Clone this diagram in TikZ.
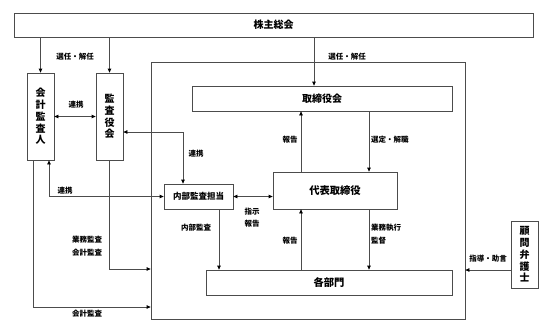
\documentclass[tikz,border=0pt]{standalone}
\usepackage{fontspec}
\setmainfont{Noto Sans CJK JP}
\usetikzlibrary{arrows.meta}
\begin{document}
\begin{tikzpicture}[x=1pt,y=-1pt,
  font=\bfseries,
  box/.style={draw=black!70,line width=0.8pt,inner sep=0pt,fill=white},
  lbl/.style={font=\fontsize{7.5}{9}\selectfont\bfseries,inner sep=0pt},
  vtext/.style={align=center,font=\fontsize{10}{11.7}\selectfont\bfseries},
  con/.style={draw=black!70,line width=0.8pt},
  arr/.style={con,-{Triangle[length=4pt,width=3.6pt,color=black]}},
  dbl/.style={con,{Triangle[length=4pt,width=3.6pt,color=black]}-{Triangle[length=4pt,width=3.6pt,color=black]}}]
\useasboundingbox (0,0) rectangle (547,332);
% nodes
\node[box,minimum width=519pt,minimum height=24pt,font=\fontsize{10}{12}\selectfont\bfseries] (top) at (273.5,25) {株主総会};
\node[box,minimum width=314pt,minimum height=257pt] (cont) at (308,190.5) {};
\node[box,minimum width=260pt,minimum height=25pt,font=\fontsize{10}{12}\selectfont\bfseries] (tori) at (322,98.5) {取締役会};
\node[box,minimum width=27pt,minimum height=87pt,vtext] (kaikei) at (40.5,116.5) {会\\計\\監\\査\\人};
\node[box,minimum width=27pt,minimum height=87pt,vtext] (kansa) at (109.5,116.5) {監\\査\\役\\会};
\node[box,minimum width=69pt,minimum height=25pt,font=\fontsize{8.5}{10}\selectfont\bfseries] (naibu) at (198.5,196.5) {内部監査担当};
\node[box,minimum width=124pt,minimum height=37pt,font=\fontsize{10.3}{12}\selectfont\bfseries] (daihyo) at (335,190.5) {代表取締役};
\node[box,minimum width=246pt,minimum height=25pt,font=\fontsize{10.3}{12}\selectfont\bfseries] (kakubu) at (329,282.5) {各部門};
\node[box,minimum width=27pt,minimum height=67pt,vtext] (komon) at (524.5,254.5) {顧\\問\\弁\\護\\士};
% connectors
\draw[arr] (kaikei.north |- top.south) -- (kaikei.north);
\draw[arr] (kansa.north |- top.south) -- (kansa.north);
\draw[arr] (tori.north -| 314,0) coordinate (t1) (t1 |- top.south) -- (t1);
\draw[dbl] (kaikei.east) -- (kansa.west);
\draw[dbl] (kansa.east |- 0,132) -- (183,132) -- (naibu.north -| 183,0);
\draw[dbl] (kaikei.south -| 49,0) |- (naibu.west);
\draw[arr] (kaikei.south -| 33,0) |- (cont.west |- 0,307);
\draw[arr] (kansa.south) |- (cont.west |- 0,269);
\draw[dbl] (naibu.east) -- (daihyo.west |- naibu.east);
\draw[arr] (naibu.south -| 219,0) -- (kakubu.north -| 219,0);
\draw[arr] (tori.south -| 369,0) -- (daihyo.north -| 369,0);
\draw[arr] (daihyo.north -| 301,0) -- (tori.south -| 301,0);
\draw[arr] (daihyo.south -| 369,0) -- (kakubu.north -| 369,0);
\draw[arr] (kakubu.north -| 301,0) -- (daihyo.south -| 301,0);
\draw[arr] (komon.west |- 0,270) -- (cont.east |- 0,270);
% labels
\node[lbl] (l1) at (75,57) {選任・解任};
\node[lbl] (l2) at (347,57) {選任・解任};
\node[lbl] (l3) at (76,105) {連携};
\node[lbl] (l4) at (196,154) {連携};
\node[lbl] (l5) at (65,191) {連携};
\node[lbl] (l6) at (252,212) {指示};
\node[lbl] (l7) at (252,224) {報告};
\node[lbl] (l8) at (196,228) {内部監査};
\node[lbl] (l9) at (87,240) {業務監査};
\node[lbl] (l10) at (87,253) {会計監査};
\node[lbl] (l11) at (87,314) {会計監査};
\node[lbl] (l12) at (290,140) {報告};
\node[lbl,anchor=west] (l13) at (371,140) {選定・解職};
\node[lbl,anchor=west] (l14) at (371,228) {業務執行};
\node[lbl,anchor=west] (l15) at (371,241) {監督};
\node[lbl] (l16) at (290,241) {報告};
\node[lbl] (l17) at (488,259) {指導・助言};
\end{tikzpicture}
\end{document}
